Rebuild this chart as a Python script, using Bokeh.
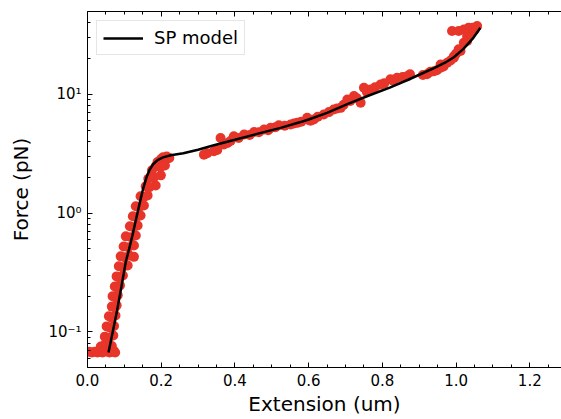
from bokeh.plotting import figure
from bokeh.models import Range1d, FixedTicker, LinearAxis, Legend, LegendItem, PrintfTickFormatter
from bokeh.embed import file_html
from bokeh.resources import INLINE

# measured data (Extension in um, Force in pN)
data_x = [
    0.004, 0.012, 0.020, 0.027, 0.034, 0.041, 0.048, 0.054, 0.060, 0.066, 0.071, 0.075,
    0.036, 0.045, 0.058, 0.066,
    0.047, 0.058, 0.070,
    0.052, 0.062, 0.072,
    0.058, 0.066, 0.076,
    0.066, 0.074, 0.079,
    0.068, 0.076, 0.082,
    0.074, 0.080, 0.088,
    0.079, 0.086, 0.096,
    0.085, 0.095, 0.109,
    0.090, 0.100, 0.114, 0.126,
    0.098, 0.110, 0.126,
    0.104, 0.118, 0.131,
    0.115, 0.124, 0.136,
    0.123, 0.132, 0.144,
    0.131, 0.140, 0.153,
    0.144, 0.152, 0.163,
    0.158, 0.168, 0.185,
    0.172, 0.180, 0.199,
    0.185, 0.198, 0.210,
    0.199, 0.210, 0.218,
    0.205, 0.215, 0.222, 0.190, 0.175, 0.165,
    0.316, 0.325, 0.343, 0.352, 0.361, 0.370, 0.380, 0.388, 0.397, 0.410,
    0.425, 0.440, 0.452, 0.465, 0.479, 0.490, 0.497, 0.510, 0.519, 0.535,
    0.551, 0.560, 0.569, 0.580, 0.596, 0.596, 0.605, 0.614, 0.625, 0.641,
    0.655, 0.668, 0.677, 0.687, 0.695, 0.705, 0.713, 0.723, 0.731, 0.741,
    0.750, 0.758, 0.768, 0.780, 0.795, 0.805, 0.822, 0.830, 0.840, 0.855,
    0.867, 0.875, 0.910, 0.921, 0.930, 0.940, 0.948, 0.958, 0.958, 0.966,
    0.976, 0.985, 0.994, 0.994, 1.000, 1.007, 1.012, 1.021, 1.030, 1.030,
    1.038, 0.989, 1.007, 1.021, 1.034, 1.044, 1.050, 1.057,
]
data_y = [
    0.068, 0.067, 0.068, 0.067, 0.068, 0.067, 0.069, 0.068, 0.067, 0.068, 0.069, 0.067,
    0.075, 0.077, 0.074, 0.076,
    0.091, 0.089, 0.093,
    0.111, 0.108, 0.112,
    0.135, 0.131, 0.137,
    0.163, 0.160, 0.167,
    0.199, 0.195, 0.203,
    0.241, 0.236, 0.246,
    0.293, 0.286, 0.298,
    0.356, 0.350, 0.362,
    0.432, 0.425, 0.440, 0.428,
    0.524, 0.515, 0.533,
    0.637, 0.625, 0.648,
    0.774, 0.760, 0.785,
    0.940, 0.925, 0.955,
    1.141, 1.120, 1.160,
    1.387, 1.360, 1.410,
    1.684, 1.650, 1.710,
    2.044, 2.000, 2.080,
    2.483, 2.440, 2.520,
    2.844, 2.800, 2.900,
    2.950, 3.000, 2.920, 2.700, 2.300, 1.950,
    3.11, 3.20, 3.32, 3.40, 4.30, 3.79, 3.90, 4.05, 4.44, 4.30,
    4.59, 4.55, 4.83, 4.80, 5.06, 5.00, 5.23, 5.30, 5.50, 5.45,
    5.58, 5.70, 5.76, 5.90, 6.15, 6.35, 6.00, 6.16, 6.50, 6.78,
    7.10, 7.47, 7.60, 7.71, 8.20, 9.07, 8.80, 9.68, 9.30, 8.50,
    11.37, 10.5, 11.0, 11.5, 12.1, 12.4, 13.4, 13.0, 13.8, 14.0,
    14.2, 14.8, 14.6, 14.8, 15.5, 15.7, 16.0, 16.8, 17.9, 17.2,
    18.5, 19.3, 21.0, 20.4, 22.0, 24.0, 23.2, 27.3, 28.2, 31.0,
    32.5, 34.2, 34.2, 35.3, 36.5, 36.5, 35.0, 37.7,
]

# SP model curve
model_x = [0.057, 0.068, 0.080, 0.092, 0.104, 0.113, 0.122, 0.130, 0.138, 0.145,
           0.152, 0.160, 0.168, 0.178, 0.190, 0.205, 0.226, 0.260, 0.300, 0.343,
           0.400, 0.460, 0.524, 0.578, 0.600, 0.650, 0.705, 0.760, 0.820, 0.870,
           0.903, 0.940, 0.970, 0.994, 1.020, 1.045, 1.066]
model_y = [0.067, 0.098, 0.150, 0.240, 0.390, 0.500, 0.650, 0.840, 1.080, 1.350,
           1.650, 2.000, 2.300, 2.580, 2.800, 2.950, 3.070, 3.200, 3.420, 3.730,
           4.150, 4.650, 5.230, 5.850, 6.150, 7.000, 8.300, 9.700, 11.40, 13.30,
           14.80, 16.70, 18.50, 20.60, 24.20, 29.50, 36.50]

x_major = [0.0, 0.2, 0.4, 0.6, 0.8, 1.0, 1.2]
x_minor = [0.05, 0.1, 0.15, 0.25, 0.3, 0.35, 0.45, 0.5, 0.55, 0.65, 0.7, 0.75,
           0.85, 0.9, 0.95, 1.05, 1.1, 1.15, 1.25]
y_major = [0.1, 1, 10]
y_minor = [0.05, 0.06, 0.07, 0.08, 0.09, 0.2, 0.3, 0.4, 0.5, 0.6, 0.7, 0.8, 0.9,
           2, 3, 4, 5, 6, 7, 8, 9, 20, 30, 40, 50]
y_labels = {0.1: "10\u207b\u00b9", 1: "10\u2070", 10: "10\u00b9"}

FONT = "DejaVu Sans"
RED = "#e8352a"

p = figure(width=561, height=419, y_axis_type="log",
           x_range=Range1d(0, 1.286), y_range=Range1d(0.05, 50),
           output_backend="svg", toolbar_location=None,
           min_border_left=87, min_border_right=0, min_border_top=11, min_border_bottom=52)
p.outline_line_color = None
p.xgrid.visible = False
p.ygrid.visible = False
p.background_fill_color = "white"
p.border_fill_color = "white"

p.scatter(data_x, data_y, size=10, fill_color=RED, line_color=RED, line_width=0)
line = p.line(model_x, model_y, line_color="black", line_width=2.5)

def style_axis(ax):
    ax.axis_line_color = "black"
    ax.major_tick_line_color = "black"
    ax.minor_tick_line_color = "black"
    ax.major_tick_in = 5
    ax.major_tick_out = 0
    ax.minor_tick_in = 3
    ax.minor_tick_out = 0
    ax.major_label_text_font = FONT
    ax.major_label_text_font_size = "15px"
    ax.major_label_text_color = "black"
    ax.axis_label_text_font = FONT
    ax.axis_label_text_font_size = "20px"
    ax.axis_label_text_font_style = "normal"
    ax.axis_label_text_color = "black"

p.xaxis.ticker = FixedTicker(ticks=x_major, minor_ticks=x_minor)
p.xaxis.formatter = PrintfTickFormatter(format="%.1f")
p.xaxis.axis_label = "Extension (um)"
p.xaxis.major_label_standoff = 6
p.xaxis.axis_label_standoff = 3
style_axis(p.xaxis[0])

p.yaxis.ticker = FixedTicker(ticks=y_major, minor_ticks=y_minor)
p.yaxis.major_label_overrides = y_labels
p.yaxis.axis_label = "Force (pN)"
p.yaxis.major_label_standoff = 6
p.yaxis.axis_label_standoff = 12
style_axis(p.yaxis[0])

# top spine with inward ticks (no labels): one axis for long ticks, one for short
top_major = LinearAxis(ticker=FixedTicker(ticks=[], minor_ticks=x_major))
style_axis(top_major)
top_major.minor_tick_in = 5
p.add_layout(top_major, "above")
top_minor = LinearAxis(ticker=FixedTicker(ticks=[], minor_ticks=x_minor))
style_axis(top_minor)
top_minor.axis_line_color = None
p.add_layout(top_minor, "above")

legend = Legend(items=[LegendItem(label="SP model", renderers=[line])], location="top_left")
legend.margin = 9
legend.padding = 6
legend.spacing = 0
legend.glyph_width = 40
legend.glyph_height = 20
legend.label_height = 20
legend.label_standoff = 11
legend.label_text_font = FONT
legend.label_text_font_size = "18px"
legend.label_text_color = "black"
legend.border_line_color = "#cccccc"
legend.border_line_width = 1
legend.background_fill_alpha = 0.8
p.add_layout(legend)

open("out.html", "w").write(file_html(p, INLINE))
